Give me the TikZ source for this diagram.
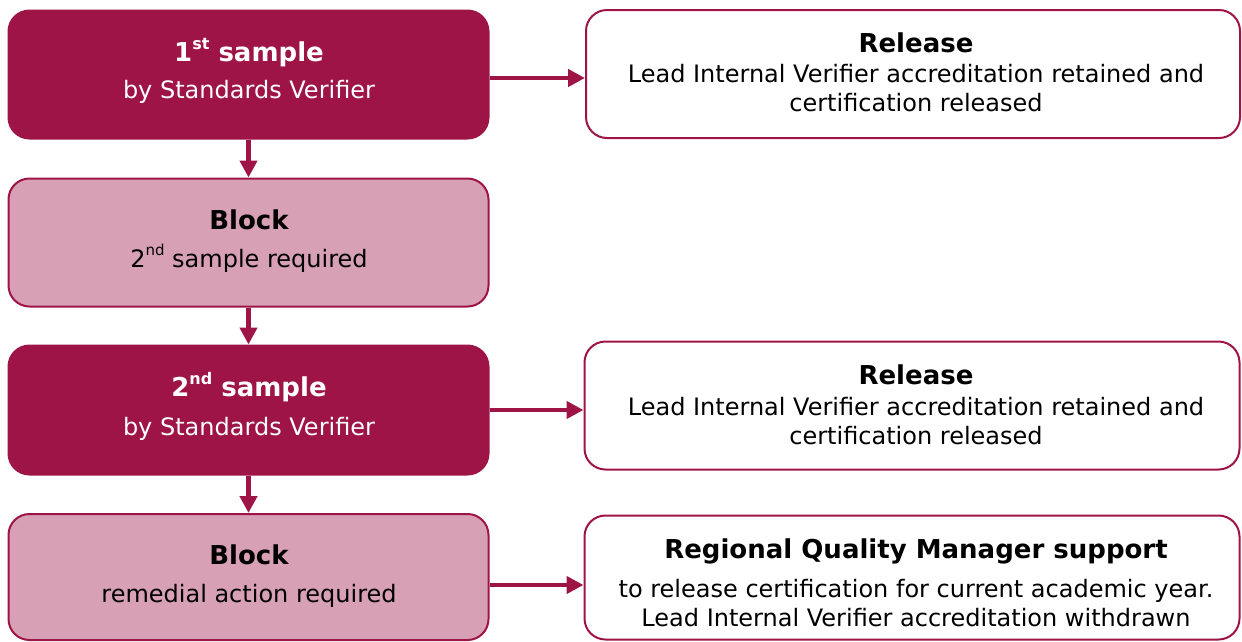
\documentclass[tikz,border=0pt]{standalone}
\usepackage{fontspec}
\setmainfont{DejaVu Sans}
\usetikzlibrary{arrows.meta}
\definecolor{crim}{RGB}{158,20,70}
\definecolor{pinkl}{RGB}{216,160,180}
\newcommand\supx[1]{\raisebox{0.5em}{\fontsize{15}{15}\selectfont #1}}
\newcommand\supb[1]{\raisebox{0.45em}{\fontsize{16}{16}\selectfont\bfseries #1}}
\tikzset{
  box/.style={rectangle, rounded corners=21pt, line width=2pt, draw=crim, inner sep=0pt},
  lbox/.style={box, minimum width=480pt, minimum height=128pt},
  rbox/.style={box, minimum width=654pt, minimum height=128pt, fill=white},
  darkbox/.style={lbox, fill=crim},
  lightbox/.style={lbox, fill=pinkl},
  ttl/.style={anchor=base, font=\fontsize{26}{30}\selectfont\bfseries, inner sep=0pt},
  sub/.style={anchor=base, font=\fontsize{24}{28}\selectfont, inner sep=0pt},
  arr/.style={draw=crim, line width=4.5pt, -{Triangle[length=17pt,width=17pt]}}
}
\begin{document}
\begin{tikzpicture}[x=1pt,y=1pt]
\useasboundingbox (0,0) rectangle (1242,-641);
% left column
\node[darkbox]  (b1) at (248.5,-74.5) {};
\node[lightbox] (b2) at (248.5,-242.5) {};
\node[darkbox, minimum height=129pt]  (b3) at (248.5,-410) {};
\node[lightbox, minimum height=126pt] (b4) at (248.5,-577) {};
% right column
\node[rbox] (r1) at (913,-74) {};
\node[rbox, minimum width=655pt] (r2) at (912,-405.5) {};
\node[rbox, minimum width=655pt, minimum height=124pt] (r3) at (912,-577.5) {};
% texts
\node[ttl, text=white] (t1) at (249,-61) {1\supb{st} sample};
\node[sub, text=white] (s1) at (249,-98) {by Standards Verifier};
\node[ttl] (t2) at (249,-229) {Block};
\node[sub] (s2) at (249,-267) {2\supx{nd} sample required};
\node[ttl] (t3) [text=white] at (249,-396) {2\supb{nd} sample};
\node[sub, text=white] (s3) at (249,-435) {by Standards Verifier};
\node[ttl] (t4) at (249,-564) {Block};
\node[sub] (s4) at (249,-602) {remedial action required};
\node[ttl] (u1) at (916,-52) {Release};
\node[sub] (v1) at (916,-82) {Lead Internal Verifier accreditation retained and};
\node[sub] (w1) at (916,-111) {certification released};
\node[ttl] (u2) at (916,-384) {Release};
\node[sub] (v2) at (916,-415) {Lead Internal Verifier accreditation retained and};
\node[sub] (w2) at (916,-444) {certification released};
\node[ttl] (u3) at (916,-558) {Regional Quality Manager support};
\node[sub] (v3) at (916,-597) {to release certification for current academic year.};
\node[sub] (w3) at (916,-626) {Lead Internal Verifier accreditation withdrawn};
% connectors
\draw[arr] ([yshift=-3.5pt]b1.east) -- ([yshift=-3.5pt]b1.east -| r1.west);
\draw[arr] (b3.east) -- (b3.east -| r2.west);
\draw[arr] ([yshift=-8pt]b4.east) -- ([yshift=-8pt]b4.east -| r3.west);
\draw[arr] (b1.south) -- (b2.north);
\draw[arr] (b2.south) -- (b3.north);
\draw[arr] (b3.south) -- (b4.north);
\end{tikzpicture}
\end{document}
